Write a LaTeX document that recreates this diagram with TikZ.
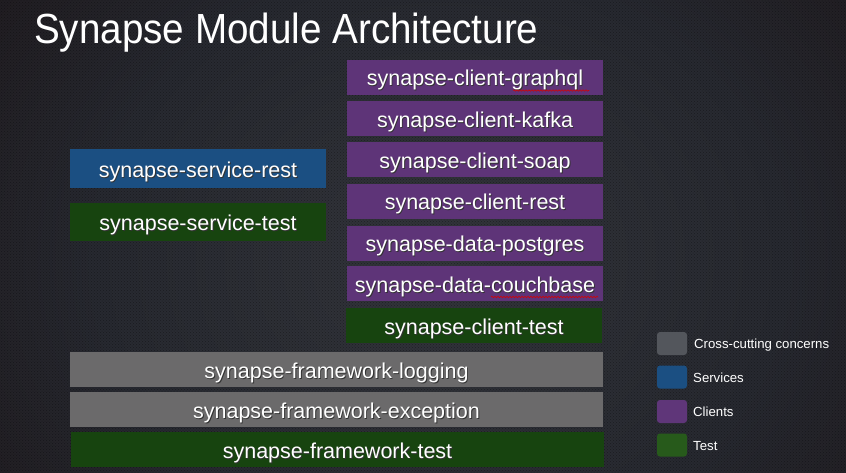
\documentclass[tikz,border=0pt]{standalone}
\usepackage{fontspec}
\setmainfont{Liberation Sans}
\usetikzlibrary{patterns,decorations.pathmorphing}
\definecolor{cpurple}{HTML}{5E3478}
\definecolor{cblue}{HTML}{1B4F82}
\definecolor{cgreen}{HTML}{17440F}
\definecolor{cgray}{HTML}{6B6A6B}
\definecolor{lgray}{HTML}{53565C}
\definecolor{lblue}{HTML}{1B4F82}
\definecolor{lpurple}{HTML}{5F3679}
\definecolor{lgreen}{HTML}{275A1B}
\definecolor{bgc}{HTML}{33353B}
\definecolor{bgm}{HTML}{272930}
\definecolor{bgd}{HTML}{191012}
\definecolor{bge}{HTML}{12090B}
\pgfdeclareradialshading{bgshade}{\pgfpoint{0bp}{0bp}}{color(0bp)=(bgc); color(16bp)=(bgm); color(34bp)=(bgd); color(50bp)=(bge)}
\newcommand{\shtxt}[1]{\leavevmode\rlap{\kern0.9pt\raisebox{-1.3pt}{\textcolor{black!80}{#1}}}#1}
\tikzset{
  modbox/.style={rectangle, inner sep=0pt, minimum width=256pt, minimum height=35pt,
    text height=17pt, text depth=0pt,
    text=white, font=\fontsize{21.5}{24}\selectfont},
  widebox/.style={modbox, minimum width=533pt},
  legsq/.style={rectangle, rounded corners=3pt, minimum width=30pt, minimum height=23pt, inner sep=0pt},
  legtxt/.style={anchor=west, inner sep=0pt, text=white, font=\fontsize{13.2}{15}\selectfont},
  spell/.style={draw=red!85!black, line width=0.6pt, decorate,
    decoration={snake, amplitude=0.7pt, segment length=3pt}}
}
\begin{document}
\begin{tikzpicture}[x=1pt,y=-1pt]
\useasboundingbox (0,0) rectangle (846,472);
% background
\begin{scope}
  \clip (0,0) rectangle (846,472);
  \fill[bge] (0,0) rectangle (846,472);
  \shade[shading=bgshade] (440,260) ellipse [x radius=540, y radius=460];
  \fill[pattern=crosshatch dots, pattern color=black, opacity=0.35] (0,0) rectangle (846,472);
\end{scope}
% title
\node[anchor=base west, inner sep=0pt, text=white, font=\fontsize{39}{44}\selectfont]
  (title) at (34,43) {\scalebox{0.99}[1.08]{Synapse Module Architecture}};
% clients column
\node[modbox, fill=cpurple] (graphql) at (475,77) {\shtxt{synapse-client-graphql}};
\node[modbox, fill=cpurple] (kafka) at (475,118.5) {\shtxt{synapse-client-kafka}};
\node[modbox, fill=cpurple] (soap) at (475,159.5) {\shtxt{synapse-client-soap}};
\node[modbox, fill=cpurple] (crest) at (475,201) {\shtxt{synapse-client-rest}};
\node[modbox, fill=cpurple] (postgres) at (475,243) {\shtxt{synapse-data-postgres}};
\node[modbox, fill=cpurple] (couch) at (475,283.5) {\shtxt{synapse-data-couchbase}};
\node[modbox, fill=cgreen] (ctest) at (474,325.5) {\shtxt{synapse-client-test}};
% services
\node[modbox, fill=cblue, minimum height=39pt] (srest) at (198,168.5) {\shtxt{synapse-service-rest}};
\node[modbox, fill=cgreen, minimum height=38pt] (stest) at (198,222) {\shtxt{synapse-service-test}};
% framework
\node[widebox, fill=cgray] (logging) at (336.5,369.5) {\shtxt{synapse-framework-logging}};
\node[widebox, fill=cgray] (exception) at (336.5,409.5) {\shtxt{synapse-framework-exception}};
\node[widebox, fill=cgreen] (ftest) at (337.5,449.5) {\shtxt{synapse-framework-test}};
% spell-check underlines
\coordinate (sq1a) at (513,90.5);
\coordinate (sq1b) at (589,90.5);
\coordinate (sq2a) at (491,297);
\coordinate (sq2b) at (598,297);
\draw[spell] (sq1a) -- (sq1b);
\draw[spell] (sq2a) -- (sq2b);
% legend
\node[legsq, fill=lgray] (lg1) at (672,343.5) {};
\node[legsq, fill=lblue] (lg2) at (672,377) {};
\node[legsq, fill=lpurple] (lg3) at (672,411.5) {};
\node[legsq, fill=lgreen] (lg4) at (672,445) {};
\node[legtxt] (lt1) at (694,345) {Cross-cutting concerns};
\node[legtxt] (lt2) at (693,378) {Services};
\node[legtxt] (lt3) at (693,412) {Clients};
\node[legtxt] (lt4) at (693,446) {Test};
\end{tikzpicture}
\end{document}
